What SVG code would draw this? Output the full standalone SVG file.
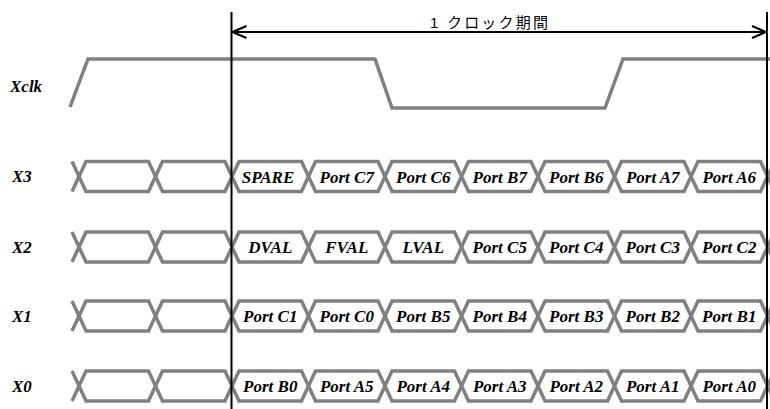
<svg xmlns="http://www.w3.org/2000/svg" width="770" height="409" viewBox="0 0 770 409">
<style>
.wave{fill:none;stroke:#808080;stroke-width:3.5;stroke-linejoin:miter}
.ref{fill:none;stroke:#000;stroke-width:2}
.sig{font-family:"Liberation Serif","Times New Roman",serif;font-weight:bold;font-style:italic;font-size:17px;fill:#000}
.cell{font-family:"Liberation Serif","Times New Roman",serif;font-weight:bold;font-style:italic;font-size:17px;fill:#000;text-anchor:middle}
.jp{font-family:"Liberation Sans","Noto Sans CJK JP",sans-serif;font-size:15px;fill:#000}
</style>
<defs>
<marker id="chev" viewBox="-16 -8 18 16" markerWidth="18" markerHeight="16" refX="0" refY="0" orient="auto-start-reverse" markerUnits="userSpaceOnUse">
<path d="M-14,-6 L0,0 L-14,6" fill="none" stroke="#000" stroke-width="2"/>
</marker>
<g id="bus">
<polyline class="wave" points="72,15 86,-15 148.5,-15 162.5,15 225,15 239,-15 301.5,-15 315.5,15 378,15 392,-15 454.5,-15 468.5,15 531,15 545,-15 607.5,-15 621.5,15 684,15 698,-15 760.5,-15 774.5,15"/>
<polyline class="wave" points="72,-15 86,15 148.5,15 162.5,-15 225,-15 239,15 301.5,15 315.5,-15 378,-15 392,15 454.5,15 468.5,-15 531,-15 545,15 607.5,15 621.5,-15 684,-15 698,15 760.5,15 774.5,-15"/>
</g>
</defs>
<rect width="770" height="409" fill="#fff"/>

<g id="Xclk">
<text class="sig" x="10" y="92">Xclk</text>
<polyline class="wave" points="70,107 88,59 375,59 392,108 605,108 623,59 772,59"/>
</g>

<g id="X3">
<text class="sig" x="12" y="182">X3</text>
<use href="#bus" y="176.5"/>
<text class="cell" y="182.5"><tspan x="268">SPARE</tspan><tspan x="346.75">Port C7</tspan><tspan x="423.25">Port C6</tspan><tspan x="499.75">Port B7</tspan><tspan x="576.25">Port B6</tspan><tspan x="652.75">Port A7</tspan><tspan x="729.25">Port A6</tspan></text>
</g>

<g id="X2">
<text class="sig" x="12" y="252.5">X2</text>
<use href="#bus" y="247"/>
<text class="cell" y="253"><tspan x="270.25">DVAL</tspan><tspan x="346.75">FVAL</tspan><tspan x="423.25">LVAL</tspan><tspan x="499.75">Port C5</tspan><tspan x="576.25">Port C4</tspan><tspan x="652.75">Port C3</tspan><tspan x="729.25">Port C2</tspan></text>
</g>

<g id="X1">
<text class="sig" x="12" y="321.5">X1</text>
<use href="#bus" y="316"/>
<text class="cell" y="322"><tspan x="270.25">Port C1</tspan><tspan x="346.75">Port C0</tspan><tspan x="423.25">Port B5</tspan><tspan x="499.75">Port B4</tspan><tspan x="576.25">Port B3</tspan><tspan x="652.75">Port B2</tspan><tspan x="729.25">Port B1</tspan></text>
</g>

<g id="X0">
<text class="sig" x="12" y="391.5">X0</text>
<use href="#bus" y="386"/>
<text class="cell" y="392"><tspan x="270.25">Port B0</tspan><tspan x="346.75">Port A5</tspan><tspan x="423.25">Port A4</tspan><tspan x="499.75">Port A3</tspan><tspan x="576.25">Port A2</tspan><tspan x="652.75">Port A1</tspan><tspan x="729.25">Port A0</tspan></text>
</g>

<g id="connectors">
<line class="ref" x1="231.5" y1="12" x2="231.5" y2="409"/>
<line class="ref" x1="767" y1="12" x2="767" y2="409"/>
<line class="ref" x1="232.5" y1="32" x2="766" y2="32" marker-start="url(#chev)" marker-end="url(#chev)"/>
<text class="jp" x="430" y="27.5" textLength="118" lengthAdjust="spacing">1 クロック期間</text>
</g>
</svg>
